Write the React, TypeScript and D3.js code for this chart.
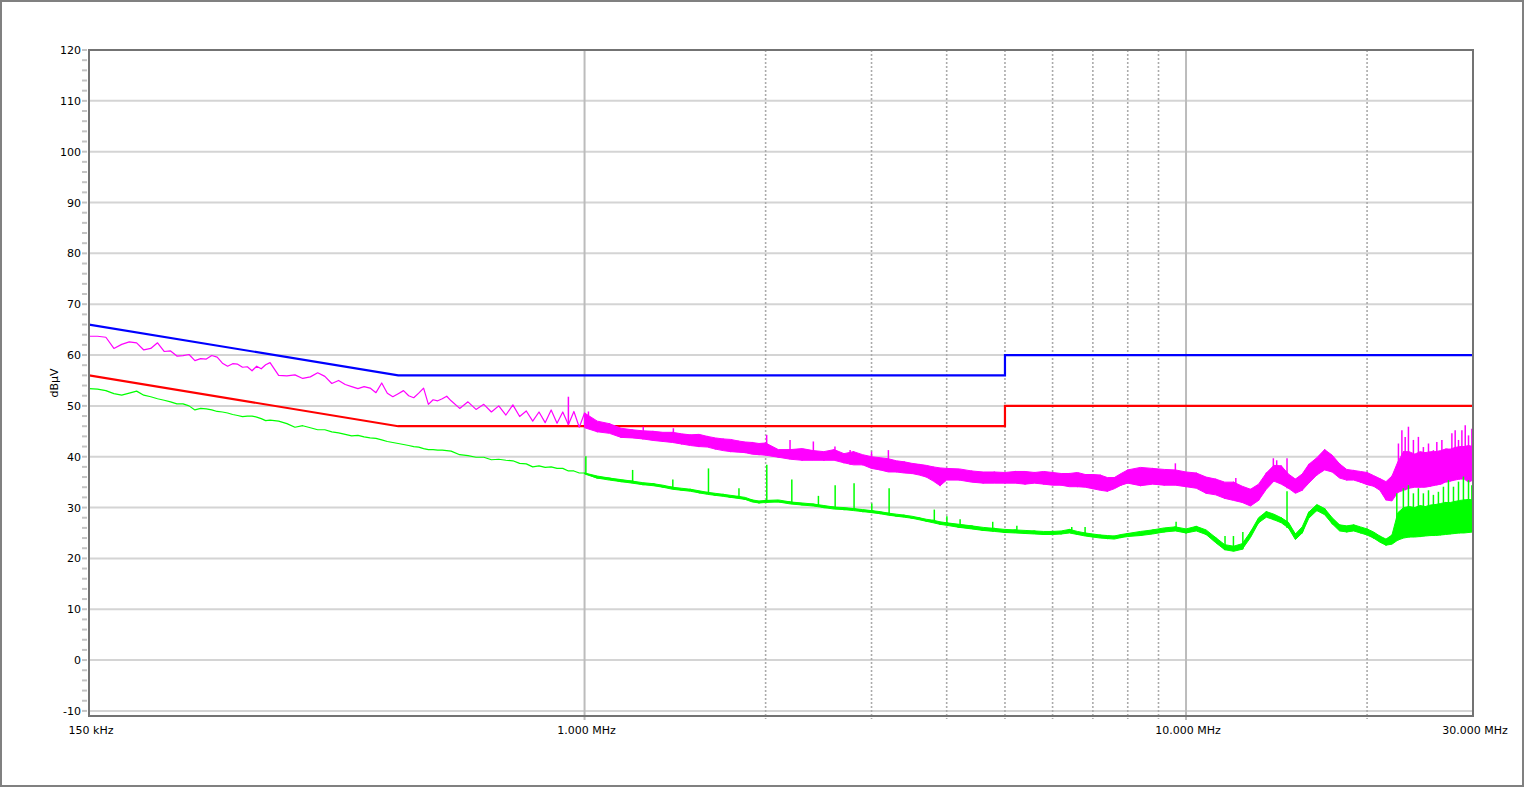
import React from "react";
import * as d3 from "d3";

// ---- Frequency grid (MHz) shared by both measured traces ----
const FREQ_MHZ = [
  0.150, 0.155, 0.160, 0.165, 0.170, 0.175, 0.180, 0.185, 0.190, 0.195,
  0.200, 0.205, 0.210, 0.215, 0.220, 0.225, 0.230, 0.235, 0.240, 0.245,
  0.250, 0.255, 0.260, 0.265, 0.270, 0.275, 0.280, 0.285, 0.290, 0.295,
  0.300,
  0.31, 0.32, 0.33, 0.34, 0.35, 0.36, 0.37, 0.38, 0.39, 0.40,
  0.41, 0.42, 0.43, 0.44, 0.45, 0.46, 0.47, 0.48, 0.49, 0.50,
  0.51, 0.52, 0.53, 0.54, 0.55, 0.56, 0.57, 0.58, 0.59, 0.60,
  0.62, 0.64, 0.66, 0.68, 0.70, 0.72, 0.74, 0.76, 0.78, 0.80,
  0.82, 0.84, 0.86, 0.88, 0.90, 0.92, 0.94, 0.96, 0.98, 1.00,
  1.05, 1.10, 1.15, 1.20, 1.25, 1.30, 1.35, 1.40, 1.45, 1.50,
  1.55, 1.60, 1.65, 1.70, 1.75, 1.80, 1.85, 1.90, 1.95, 2.00,
  2.1, 2.2, 2.3, 2.4, 2.5, 2.6, 2.7, 2.8, 2.9, 3.0,
  3.1, 3.2, 3.3, 3.4, 3.5, 3.6, 3.7, 3.8, 3.9, 4.0,
  4.2, 4.4, 4.6, 4.8, 5.0, 5.2, 5.4, 5.6, 5.8, 6.0,
  6.2, 6.4, 6.6, 6.8, 7.0, 7.2, 7.4, 7.6, 7.8, 8.0,
  8.4, 8.8, 9.2, 9.6, 10.0, 10.4, 10.8, 11.2, 11.6, 12.0,
  12.4, 12.8, 13.2, 13.6, 14.0, 14.4, 14.8, 15.2, 15.6, 16.0,
  16.5, 17.0, 17.5, 18.0, 18.5, 19.0, 19.5, 20.0, 20.5, 21.0,
  21.5, 22.0, 22.5, 23.0, 23.5, 24.0, 24.5, 25.0, 25.5, 26.0,
  26.5, 27.0, 27.5, 28.0, 28.5, 29.0, 29.5, 30.0,
];

// ---- Peak trace (magenta): lower / upper edge of the drawn trace (dBµV) ----
const PEAK_LO = [
  63.7, 63.7, 63.5, 61.3, 62.1, 62.6, 62.4, 61.0, 61.3, 62.4,
  60.7, 60.8, 59.8, 59.9, 60.1, 58.9, 59.3, 59.2, 59.9, 59.6,
  58.4, 57.8, 58.3, 58.2, 57.6, 57.7, 56.9, 57.8, 57.3, 58.1,
  58.5,
  56.0, 55.9, 56.1, 55.4, 55.7, 56.5, 55.8, 54.4, 55.0, 54.2,
  53.8, 53.4, 53.8, 53.5, 52.6, 54.5, 52.5, 51.8, 52.4, 53.0,
  52.0, 51.6, 52.5, 53.5, 50.3, 51.2, 51.0, 51.4, 51.9, 51.0,
  49.5, 49.6, 49.3, 49.2, 48.8, 48.5, 48.2, 48.0, 47.9, 47.5,
  47.0, 46.9, 46.7, 46.6, 46.6, 46.4, 46.3, 46.0, 45.8, 45.7,
  44.9, 44.6, 43.8, 43.7, 43.5, 43.2, 43.0, 42.8, 42.5, 42.2,
  42.0, 41.9, 41.5, 41.2, 41.0, 40.9, 40.8, 40.5, 40.4, 40.3,
  39.9, 39.5, 39.3, 39.3, 39.3, 39.3, 38.8, 38.4, 38.4, 37.7,
  37.4, 37.0, 37.0, 36.8, 36.7, 36.4, 36.0, 35.2, 34.3, 35.4,
  35.4, 35.0, 34.8, 34.8, 34.8, 34.8, 34.6, 34.8, 34.6, 34.4,
  34.4, 34.1, 34.1, 34.0, 33.7, 33.4, 33.2, 33.7, 34.4, 34.8,
  34.3, 34.6, 34.4, 34.4, 34.1, 33.8, 32.8, 32.5, 31.8, 31.4,
  31.0, 30.3, 31.4, 33.6, 35.2, 34.6, 33.8, 32.8, 33.4, 34.8,
  36.4, 37.4, 37.0, 35.8, 35.4, 35.4, 35.0, 34.5, 34.2, 33.4,
  31.5, 31.3, 33.0, 33.4, 33.8, 34.0, 34.0, 34.0, 34.2, 34.4,
  34.6, 35.0, 35.2, 35.4, 35.6, 35.6, 35.0, 35.4,
];
const PEAK_HI = [
  63.7, 63.7, 63.5, 61.3, 62.1, 62.6, 62.4, 61.0, 61.3, 62.4,
  60.7, 60.8, 59.8, 59.9, 60.1, 58.9, 59.3, 59.2, 59.9, 59.6,
  58.4, 57.8, 58.3, 58.2, 57.6, 57.7, 56.9, 57.8, 57.3, 58.1,
  58.5,
  56.0, 55.9, 56.1, 55.4, 55.7, 56.5, 55.8, 54.4, 55.0, 54.2,
  53.8, 53.4, 53.8, 53.5, 52.6, 54.5, 52.5, 51.8, 52.4, 53.0,
  52.0, 51.6, 52.5, 53.5, 50.3, 51.2, 51.0, 51.4, 51.9, 51.0,
  50.3, 50.8, 50.4, 50.3, 50.5, 50.0, 50.0, 50.2, 49.2, 49.0,
  48.8, 48.8, 49.0, 49.2, 48.9, 48.8, 48.6, 48.9, 48.5, 48.6,
  47.0, 46.5, 45.6, 45.3, 45.1, 45.0, 44.8, 44.8, 44.5, 44.3,
  44.4, 44.0, 43.7, 43.5, 43.4, 43.1, 42.9, 42.8, 42.6, 42.7,
  41.4, 41.4, 41.6, 41.2, 41.0, 41.4, 40.6, 41.0, 40.4, 40.0,
  39.8, 39.6, 39.2, 39.0, 38.7, 38.5, 38.3, 38.0, 37.8, 37.7,
  37.6, 37.2, 37.0, 37.0, 36.9, 37.1, 37.1, 36.9, 37.1, 36.9,
  36.7, 36.7, 36.9, 36.5, 36.5, 36.4, 35.9, 35.9, 36.7, 37.4,
  37.9, 37.7, 37.5, 37.4, 37.0, 36.8, 36.0, 35.6, 35.0, 35.0,
  34.2, 33.6, 34.6, 36.8, 38.3, 38.2, 36.6, 35.6, 36.6, 38.5,
  39.8, 41.4, 40.3, 38.6, 37.5, 37.3, 37.1, 36.9, 36.3, 35.7,
  35.1, 36.2, 39.0, 41.0, 41.0, 40.5, 41.0, 40.8, 41.0, 41.0,
  41.2, 41.5, 41.5, 41.8, 42.0, 42.0, 42.2, 42.0,
];
// isolated peak-trace spikes: [frequency MHz, level dBµV]
const PEAK_SPIKES: [number, number][] = [
  [0.94, 51.8], [1.015, 48.9], [1.252, 45.9], [1.405, 45.6], [1.659, 43.6],
  [2.008, 44.3], [2.196, 43.3], [2.401, 43.0],
  [2.608, 42.0], [2.764, 41.3], [3.0, 41.0], [3.2, 41.3], [9.6, 38.7],
  [12.1, 35.8], [13.97, 39.7], [14.15, 39.3], [14.72, 39.7],
  [22.55, 42.6], [22.85, 45.2], [23.14, 43.9], [23.43, 45.9], [23.88, 43.3],
  [24.34, 43.9], [24.81, 41.9], [25.3, 42.6], [25.78, 41.3], [26.12, 42.9],
  [26.63, 43.3], [27.14, 41.6], [27.67, 44.6], [28.02, 45.2], [28.38, 43.3],
  [28.75, 45.2], [29.12, 46.2], [29.49, 44.2], [29.87, 45.5],
];

// ---- Average trace (green): lower / upper edge (dBµV) ----
const AVG_LO = [
  53.4, 53.3, 53.0, 52.4, 52.1, 52.5, 52.9, 52.1, 51.8, 51.4,
  51.1, 50.8, 50.4, 50.4, 50.0, 49.2, 49.5, 49.4, 49.2, 48.9,
  48.8, 48.6, 48.3, 48.1, 47.9, 48.0, 48.0, 47.8, 47.5, 47.1,
  47.2,
  47.0, 46.5, 45.8, 46.1, 45.7, 45.3, 45.3, 44.9, 44.7, 44.4,
  44.1, 44.2, 43.9, 43.7, 43.6, 43.3, 43.0, 42.8, 42.6, 42.4,
  42.2, 42.0, 41.9, 41.6, 41.4, 41.4, 41.3, 41.3, 41.2, 41.1,
  40.4, 40.0, 39.9, 39.7, 39.4, 39.3, 39.3, 39.0, 38.7, 38.4,
  38.0, 38.0, 37.9, 37.8, 37.7, 37.5, 37.2, 37.0, 36.8, 36.6,
  35.8, 35.4, 35.1, 34.8, 34.5, 34.3, 34.0, 33.6, 33.4, 33.2,
  32.9, 32.6, 32.4, 32.2, 32.0, 31.8, 31.6, 31.1, 30.9, 31.0,
  31.1, 30.7, 30.5, 30.3, 30.0, 29.7, 29.6, 29.4, 29.2, 29.0,
  28.8, 28.5, 28.3, 28.1, 27.9, 27.6, 27.3, 27.0, 26.7, 26.5,
  26.1, 25.8, 25.5, 25.3, 25.1, 25.0, 24.9, 24.8, 24.7, 24.7,
  24.8, 25.0, 24.7, 24.4, 24.2, 24.0, 23.9, 23.8, 24.1, 24.3,
  24.5, 24.8, 25.2, 25.4, 25.0, 25.4, 24.7, 23.1, 21.7, 21.4,
  21.8, 24.1, 27.0, 28.1, 27.6, 27.0, 26.0, 23.7, 25.0, 27.9,
  29.4, 28.6, 26.8, 25.4, 25.2, 25.4, 25.0, 24.6, 24.0, 23.2,
  22.6, 22.8, 23.6, 24.0, 24.2, 24.2, 24.3, 24.4, 24.5, 24.5,
  24.6, 24.7, 24.8, 24.9, 25.0, 25.0, 25.1, 25.2,
];
const AVG_HI = [
  53.4, 53.3, 53.0, 52.4, 52.1, 52.5, 52.9, 52.1, 51.8, 51.4,
  51.1, 50.8, 50.4, 50.4, 50.0, 49.2, 49.5, 49.4, 49.2, 48.9,
  48.8, 48.6, 48.3, 48.1, 47.9, 48.0, 48.0, 47.8, 47.5, 47.1,
  47.2,
  47.0, 46.5, 45.8, 46.1, 45.7, 45.3, 45.3, 44.9, 44.7, 44.4,
  44.1, 44.2, 43.9, 43.7, 43.6, 43.3, 43.0, 42.8, 42.6, 42.4,
  42.2, 42.0, 41.9, 41.6, 41.4, 41.4, 41.3, 41.3, 41.2, 41.1,
  40.6, 40.2, 40.1, 39.9, 39.6, 39.5, 39.5, 39.2, 38.9, 38.6,
  38.2, 38.2, 38.1, 38.0, 37.9, 37.7, 37.4, 37.2, 37.0, 36.8,
  36.2, 35.8, 35.5, 35.2, 34.9, 34.7, 34.4, 34.0, 33.8, 33.6,
  33.3, 33.0, 32.8, 32.6, 32.4, 32.2, 32.0, 31.5, 31.3, 31.4,
  31.5, 31.1, 30.9, 30.7, 30.4, 30.1, 30.0, 29.8, 29.6, 29.4,
  29.2, 28.9, 28.7, 28.5, 28.3, 28.0, 27.7, 27.5, 27.2, 27.0,
  26.7, 26.4, 26.1, 25.9, 25.7, 25.6, 25.5, 25.4, 25.3, 25.3,
  25.4, 25.7, 25.3, 25.0, 24.8, 24.6, 24.5, 24.4, 24.7, 24.9,
  25.3, 25.6, 26.0, 26.2, 25.8, 26.3, 25.6, 24.1, 22.7, 22.4,
  22.9, 25.2, 28.0, 29.2, 28.7, 28.0, 27.1, 24.8, 26.2, 29.1,
  30.6, 29.8, 28.0, 26.6, 26.4, 26.6, 26.2, 25.8, 25.2, 24.4,
  23.8, 24.6, 29.0, 30.0, 30.2, 30.0, 30.4, 30.2, 30.5, 30.6,
  30.8, 31.0, 31.0, 31.2, 31.4, 31.5, 31.6, 31.5,
];
const AVG_SPIKES: [number, number][] = [
  [1.005, 40.1], [1.202, 37.4], [1.402, 35.5], [1.607, 37.7], [1.806, 33.8],
  [2.009, 38.4], [2.211, 35.5], [2.448, 32.3], [2.61, 34.4], [2.806, 34.8],
  [3.003, 30.8], [3.209, 33.8], [3.815, 29.6], [4.003, 28.3], [4.211, 27.7],
  [4.771, 27.2], [5.233, 26.4], [6.457, 26.2], [6.795, 26.2], [9.627, 27.2],
  [11.61, 24.4], [11.99, 24.4], [12.43, 25.2], [14.72, 33.2],
  [22.41, 32.8], [22.98, 33.8], [23.43, 34.4], [23.88, 32.8], [24.34, 33.8],
  [24.81, 32.8], [25.3, 33.4], [25.78, 32.5], [26.28, 33.1], [26.79, 34.1],
  [27.31, 35.4], [27.84, 34.1], [28.38, 35.1], [28.92, 36.1], [29.49, 35.4],
  [29.87, 34.4],
];

// ---- Limit lines ----
const LIMIT_FREQ_MHZ = [0.15, 0.49, 5, 5, 30];
const QP_LIMIT = [66, 56, 56, 60, 60];
const AV_LIMIT = [56, 46, 46, 50, 50];

// ---- Axes ----
const Y_TICKS = [120, 110, 100, 90, 80, 70, 60, 50, 40, 30, 20, 10, 0, -10];
const X_SOLID_GRID = [1, 10];
const X_DOTTED_GRID = [2, 3, 4, 5, 6, 7, 8, 9, 20];
const X_TICK_FREQS = [0.15, 1, 10, 30];
const X_TICK_LABELS = ["150 kHz", "1.000 MHz", "10.000 MHz", "30.000 MHz"];
const Y_TITLE = "dBµV";

const W = 1524;
const H = 787;
const PL = 89, PR = 1473, PT = 50, PB = 716;
const DENSE_FROM = 80; // index from which the trace is drawn as a filled band
const FONT = "'DejaVu Sans', Verdana, sans-serif";

export default function App() {
  const x = d3.scaleLog().domain([0.15, 30]).range([PL, PR]);
  const y = d3.scaleLinear().domain([-11, 120]).range([PB, PT]);
  const idx = FREQ_MHZ.map((_, i) => i);
  const denseIdx = idx.filter((i) => i >= DENSE_FROM);

  const band = (lo: number[], hi: number[]) =>
    d3
      .area<number>()
      .x((i) => x(FREQ_MHZ[i]))
      .y0((i) => y(lo[i]))
      .y1((i) => y(hi[i]))(denseIdx) ?? "";

  // trace drawn as a line alternating between the upper and lower edge
  const zigzag = (lo: number[], hi: number[]) =>
    d3
      .line<number>()
      .x((i) => x(FREQ_MHZ[i]))
      .y((i) => y(i % 2 === 0 ? hi[i] : lo[i]))(idx) ?? "";

  const limit = (vals: number[]) =>
    d3
      .line<number>()
      .x((i) => x(LIMIT_FREQ_MHZ[i]))
      .y((i) => y(vals[i]))(vals.map((_, i) => i)) ?? "";

  const nearest = (f: number) => {
    const i = d3.bisectCenter(FREQ_MHZ, f);
    return Math.max(0, Math.min(FREQ_MHZ.length - 1, i));
  };

  const minorTicks = d3.range(-10, 121, 2);

  return (
    <svg
      width={W}
      height={H}
      style={{ position: "absolute", left: 0, top: 0, display: "block" }}
      fontFamily={FONT}
    >
      <defs>
        <clipPath id="plotClip">
          <rect x={PL} y={PT} width={PR - PL} height={PB - PT} />
        </clipPath>
      </defs>
      <rect x={1} y={1} width={W - 2} height={H - 2} fill="#ffffff" stroke="#808080" strokeWidth={2} />

      {/* horizontal grid */}
      {Y_TICKS.filter((t) => t < 120).map((t) => (
        <line key={"hg" + t} x1={PL} x2={PR} y1={y(t)} y2={y(t)} stroke="#d4d4d4" strokeWidth={2} />
      ))}
      {/* vertical grid */}
      {X_DOTTED_GRID.map((f) => (
        <line
          key={"vd" + f}
          x1={x(f)}
          x2={x(f)}
          y1={PT}
          y2={PB + 3}
          stroke="#ababab"
          strokeWidth={1.6}
          strokeDasharray="2,2"
        />
      ))}
      {X_SOLID_GRID.map((f) => (
        <line key={"vs" + f} x1={x(f)} x2={x(f)} y1={PT} y2={PB + 4} stroke="#bcbcbc" strokeWidth={2} />
      ))}

      {/* y ticks */}
      {minorTicks.map((t) => (
        <line key={"mt" + t} x1={82} x2={87} y1={y(t)} y2={y(t)} stroke="#c4c4c4" strokeWidth={2} />
      ))}
      {Y_TICKS.map((t) => (
        <text key={"yl" + t} x={81} y={y(t) + 4} textAnchor="end" fontSize={11} fill="#000">
          {t}
        </text>
      ))}
      {X_TICK_FREQS.map((f, i) => (
        <text key={"xl" + f} x={x(f) + 2} y={734} textAnchor="middle" fontSize={11} fill="#000">
          {X_TICK_LABELS[i]}
        </text>
      ))}
      <text transform="translate(58,383) rotate(-90)" textAnchor="middle" fontSize={11} fill="#000">
        {Y_TITLE}
      </text>

      <g clipPath="url(#plotClip)">
        {/* limits */}
        <path d={limit(QP_LIMIT)} fill="none" stroke="#0000ff" strokeWidth={2.2} />
        <path d={limit(AV_LIMIT)} fill="none" stroke="#ff0000" strokeWidth={2.2} />

        {/* peak trace */}
        <path d={zigzag(PEAK_LO, PEAK_HI)} fill="none" stroke="#ff00ff" strokeWidth={1.2} strokeLinejoin="round" />
        <path d={band(PEAK_LO, PEAK_HI)} fill="#ff00ff" stroke="#ff00ff" strokeWidth={1} strokeLinejoin="round" />
        {PEAK_SPIKES.map(([f, v], k) => (
          <line
            key={"ps" + k}
            x1={x(f)}
            x2={x(f)}
            y1={y(v)}
            y2={y(PEAK_LO[nearest(f)])}
            stroke="#ff00ff"
            strokeWidth={1.5}
          />
        ))}

        {/* average trace */}
        <path d={zigzag(AVG_LO, AVG_HI)} fill="none" stroke="#00ff00" strokeWidth={1.2} strokeLinejoin="round" />
        <path d={band(AVG_LO, AVG_HI)} fill="#00ff00" stroke="#00ff00" strokeWidth={1} strokeLinejoin="round" />
        {AVG_SPIKES.map(([f, v], k) => (
          <line
            key={"as" + k}
            x1={x(f)}
            x2={x(f)}
            y1={y(v)}
            y2={y(AVG_LO[nearest(f)])}
            stroke="#00ff00"
            strokeWidth={1.5}
          />
        ))}
      </g>

      {/* plot frame */}
      <rect x={PL} y={PT} width={PR - PL} height={PB - PT} fill="none" stroke="#737373" strokeWidth={2} />
    </svg>
  );
}
